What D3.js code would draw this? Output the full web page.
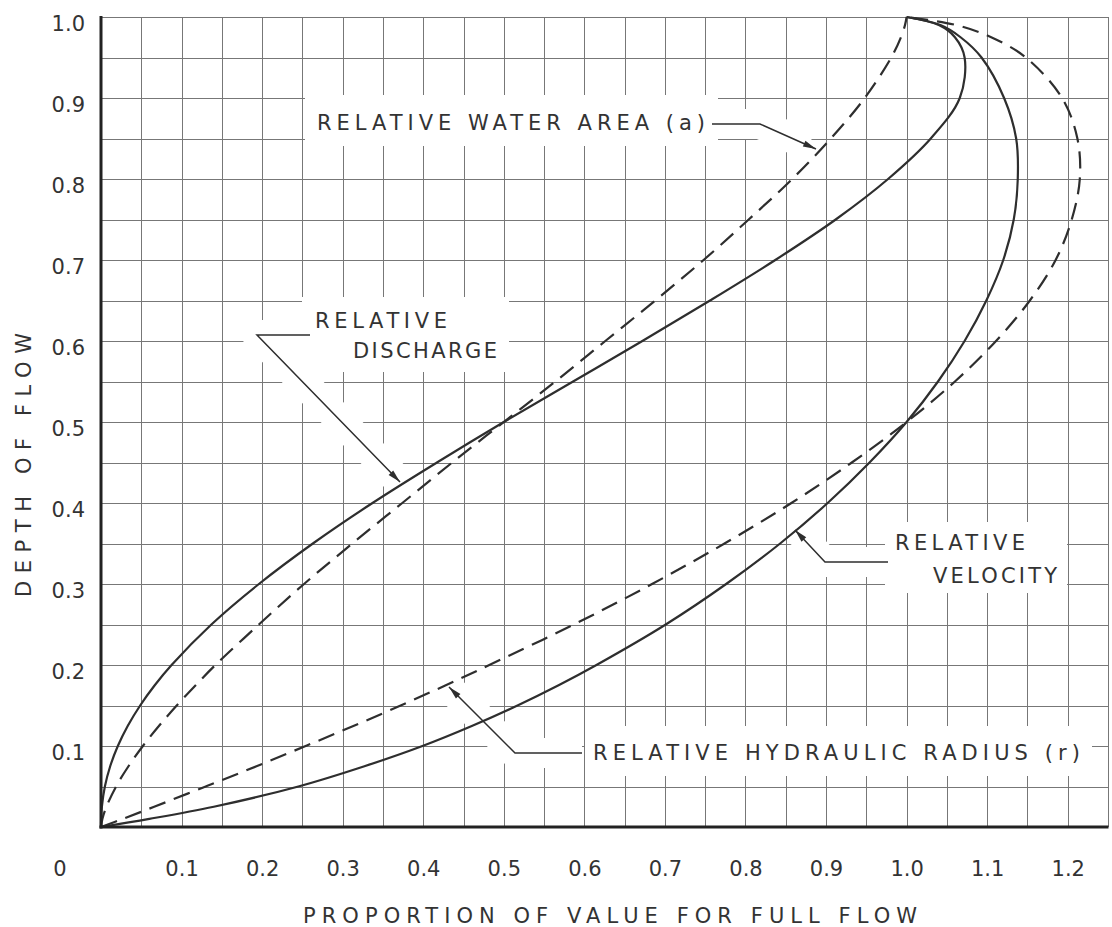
<!DOCTYPE html>
<html>
<head>
<meta charset="utf-8">
<script src="https://cdn.jsdelivr.net/npm/d3@7/dist/d3.min.js"></script>
<style>
  body { margin: 0; background: #fff; }
  svg text { font-family: "DejaVu Sans", sans-serif; fill: #333; }
</style>
</head>
<body>
<svg id="chart" width="1112" height="927"></svg>
<script>
// ---------------- DATA ----------------
const depth        = [0, 0.01, 0.025, 0.05, 0.075, 0.1, 0.125, 0.15, 0.175, 0.2, 0.25, 0.3, 0.35, 0.4, 0.45, 0.5, 0.55, 0.6, 0.65, 0.7, 0.75, 0.8, 0.85, 0.9, 0.95, 0.975, 0.99, 1.0];
const relDischarge = [0, 0.0002, 0.0011, 0.0048, 0.0114, 0.0209, 0.0333, 0.0486, 0.0667, 0.0876, 0.137, 0.196, 0.263, 0.337, 0.417, 0.5, 0.586, 0.672, 0.756, 0.837, 0.912, 0.977, 1.030, 1.066, 1.072, 1.060, 1.040, 1.0];
const relArea      = [0, 0.0017, 0.0067, 0.0187, 0.0341, 0.052, 0.0721, 0.094, 0.1175, 0.142, 0.196, 0.252, 0.312, 0.374, 0.436, 0.5, 0.564, 0.626, 0.688, 0.748, 0.804, 0.858, 0.906, 0.948, 0.981, 0.993, 0.998, 1.0];
const relVelocity  = [0, 0.060, 0.140, 0.245, 0.327, 0.399, 0.461, 0.517, 0.568, 0.615, 0.701, 0.776, 0.843, 0.902, 0.954, 1.0, 1.039, 1.072, 1.099, 1.120, 1.133, 1.138, 1.136, 1.121, 1.093, 1.067, 1.042, 1.0];
const relRadius    = [0, 0.027, 0.066, 0.130, 0.193, 0.254, 0.314, 0.372, 0.428, 0.482, 0.587, 0.684, 0.774, 0.857, 0.932, 1.0, 1.060, 1.111, 1.153, 1.185, 1.205, 1.215, 1.212, 1.193, 1.148, 1.105, 1.062, 1.0];

const xTickValues = [0.1, 0.2, 0.3, 0.4, 0.5, 0.6, 0.7, 0.8, 0.9, 1.0, 1.1, 1.2];
const xTickLabels = ["0.1", "0.2", "0.3", "0.4", "0.5", "0.6", "0.7", "0.8", "0.9", "1.0", "1.1", "1.2"];
const yTickValues = [0.1, 0.2, 0.3, 0.4, 0.5, 0.6, 0.7, 0.8, 0.9, 1.0];
const yTickLabels = ["0.1", "0.2", "0.3", "0.4", "0.5", "0.6", "0.7", "0.8", "0.9", "1.0"];
const originLabel = "0";
const xTitle = "PROPORTION OF VALUE FOR FULL FLOW";
const yTitle = "DEPTH OF FLOW";

const xGridCount = 25;   // grid every 0.05 up to 1.25
const yGridCount = 20;   // grid every 0.05 up to 1.0
const gridStep = 0.05;

// ---------------- LAYOUT ----------------
const svg = d3.select("#chart");
const x = d3.scaleLinear().domain([0, 1.25]).range([101, 1108]);
const y = d3.scaleLinear().domain([0, 1.0]).range([827, 17]);

const gridColor = "#777";
const inkColor = "#2e2e2e";

// grid via axes
const xGridVals = d3.range(0, xGridCount + 1).map(i => +(i * gridStep).toFixed(2));
const yGridVals = d3.range(0, yGridCount + 1).map(i => +(i * gridStep).toFixed(2));

const gridV = svg.append("g")
  .attr("transform", `translate(0,${y(0)})`)
  .call(d3.axisBottom(x).tickValues(xGridVals).tickSize(-(y(0) - y(1))).tickFormat(""));
const gridH = svg.append("g")
  .attr("transform", `translate(${x(0)},0)`)
  .call(d3.axisLeft(y).tickValues(yGridVals).tickSize(-(x(1.25) - x(0))).tickFormat(""));
[gridV, gridH].forEach(g => {
  g.select(".domain").remove();
  g.selectAll(".tick line").attr("stroke", gridColor).attr("stroke-width", 1).attr("shape-rendering", "crispEdges");
});

// ---------------- ANNOTATIONS (layout) ----------------
const annotations = [
  { // relative water area
    lines: [{ t: "RELATIVE WATER AREA (a)", x: 317, y: 130, len: 388 }],
    box: [305, 95, 718, 146],
    leader: [[712, 124], [760, 124], [816, 149]]
  },
  { // relative discharge
    lines: [{ t: "RELATIVE", x: 315, y: 328, len: 132 }, { t: "DISCHARGE", x: 353, y: 358, len: 144 }],
    box: [302, 297, 509, 372],
    leader: [[310, 335], [257, 335], [400, 482]]
  },
  { // relative velocity
    lines: [{ t: "RELATIVE", x: 895, y: 550, len: 130 }, { t: "VELOCITY", x: 933, y: 583, len: 124 }],
    box: [885, 522, 1067, 593],
    leader: [[888, 562], [825, 562], [795, 530]]
  },
  { // relative hydraulic radius
    lines: [{ t: "RELATIVE HYDRAULIC RADIUS (r)", x: 593, y: 760, len: 487 }],
    box: [585, 726, 1092, 776],
    leader: [[582, 753], [515, 753], [449, 687]]
  }
];

// white masks (boxes around labels and halos around leaders)
const maskG = svg.append("g");
annotations.forEach(a => {
  maskG.append("rect")
    .attr("x", a.box[0]).attr("y", a.box[1])
    .attr("width", a.box[2] - a.box[0]).attr("height", a.box[3] - a.box[1])
    .attr("fill", "#fff");
  const pts = a.leader.map(p => p.slice());
  const n = pts.length;
  const [px, py] = pts[n - 2], [tx, ty] = pts[n - 1];
  const L = Math.hypot(tx - px, ty - py);
  pts[n - 1] = [tx - (tx - px) / L * 8, ty - (ty - py) / L * 8];
  maskG.append("path")
    .attr("d", d3.line()(pts))
    .attr("fill", "none").attr("stroke", "#fff")
    .attr("stroke-width", 30).attr("stroke-linejoin", "round");
});

// ---------------- CURVES ----------------
const series = [
  { values: relDischarge, dash: null },
  { values: relArea, dash: "17,9" },
  { values: relVelocity, dash: null },
  { values: relRadius, dash: "17,9" }
];
const line = d3.line()
  .x(d => x(d[0]))
  .y(d => y(d[1]))
  .curve(d3.curveCatmullRom.alpha(0.5));

const curveG = svg.append("g");
series.forEach(s => {
  curveG.append("path")
    .datum(s.values.map((v, i) => [v, depth[i]]))
    .attr("d", line)
    .attr("fill", "none")
    .attr("stroke", inkColor)
    .attr("stroke-width", 2.2)
    .attr("stroke-dasharray", s.dash)
    .attr("stroke-linecap", "butt");
});

// heavy left and bottom axis lines
svg.append("line").attr("x1", x(0)).attr("x2", x(0)).attr("y1", y(1) - 1).attr("y2", y(0) + 1.5)
  .attr("stroke", "#222").attr("stroke-width", 3);
svg.append("line").attr("x1", x(0) - 1.5).attr("x2", x(1.25) + 0.5).attr("y1", y(0)).attr("y2", y(0))
  .attr("stroke", "#222").attr("stroke-width", 3);

// ---------------- LEADERS & LABELS ----------------
const annG = svg.append("g");
annotations.forEach(a => {
  annG.append("path")
    .attr("d", d3.line()(a.leader))
    .attr("fill", "none").attr("stroke", inkColor).attr("stroke-width", 1.5);
  const n = a.leader.length;
  const [px, py] = a.leader[n - 2], [tx, ty] = a.leader[n - 1];
  const L = Math.hypot(tx - px, ty - py);
  const ux = (tx - px) / L, uy = (ty - py) / L;
  const len = 13, hw = 3.2;
  const bx = tx - ux * len, by = ty - uy * len;
  annG.append("path")
    .attr("d", `M${tx},${ty}L${bx - uy * hw},${by + ux * hw}L${bx + uy * hw},${by - ux * hw}Z`)
    .attr("fill", inkColor);
  a.lines.forEach(l => {
    annG.append("text")
      .attr("x", l.x).attr("y", l.y)
      .attr("font-size", 21)
      .attr("textLength", l.len).attr("lengthAdjust", "spacing")
      .text(l.t);
  });
});

// ---------------- TICK LABELS (axes) ----------------
const xAxis = svg.append("g")
  .attr("transform", `translate(0,${y(0)})`)
  .call(d3.axisBottom(x).tickValues(xTickValues).tickSize(0).tickPadding(49)
    .tickFormat((d, i) => xTickLabels[i]));
const yAxis = svg.append("g")
  .attr("transform", `translate(${x(0)},0)`)
  .call(d3.axisLeft(y).tickValues(yTickValues).tickSize(0).tickPadding(16)
    .tickFormat((d, i) => yTickLabels[i]));
[xAxis, yAxis].forEach(g => {
  g.select(".domain").remove();
  g.selectAll("text").attr("font-size", 21).attr("fill", inkColor)
    .attr("font-family", "\"DejaVu Sans\", sans-serif");
});
yAxis.selectAll("text").attr("dy", "0.62em");
xAxis.selectAll("text").attr("dy", "0em");

svg.append("text")
  .attr("x", x(0) - 41).attr("y", 876)
  .attr("text-anchor", "middle").attr("font-size", 21)
  .text(originLabel);

// axis titles
svg.append("text")
  .attr("x", 303).attr("y", 923)
  .attr("font-size", 21)
  .attr("textLength", 614).attr("lengthAdjust", "spacing")
  .text(xTitle);
svg.append("text")
  .attr("transform", "translate(31,597) rotate(-90)")
  .attr("font-size", 21)
  .attr("textLength", 264).attr("lengthAdjust", "spacing")
  .text(yTitle);
</script>
</body>
</html>
